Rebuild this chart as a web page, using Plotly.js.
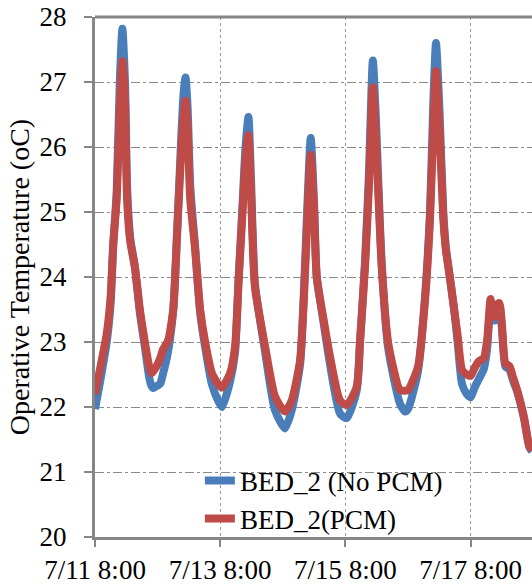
<!DOCTYPE html>
<html>
<head>
<meta charset="utf-8">
<script src="https://cdn.plot.ly/plotly-3.0.1.min.js"></script>
<style>
  html, body { margin: 0; padding: 0; background: #fff; }
  #chart { width: 532px; height: 588px; }
</style>
</head>
<body>
<div id="chart"></div>
<script>
// Time stamps
const times = [
  '2013-07-11 08:00','2013-07-11 10:00','2013-07-11 12:30','2013-07-11 14:00','2013-07-11 15:00',
  '2013-07-11 16:18','2013-07-11 17:30','2013-07-11 18:30','2013-07-11 19:30','2013-07-11 20:18',
  '2013-07-11 21:30','2013-07-11 23:18','2013-07-12 01:12','2013-07-12 03:12','2013-07-12 04:48',
  '2013-07-12 05:42','2013-07-12 06:18','2013-07-12 07:30','2013-07-12 09:00','2013-07-12 10:00',
  '2013-07-12 12:00','2013-07-12 14:00','2013-07-12 15:30','2013-07-12 17:00','2013-07-12 18:00',
  '2013-07-12 18:42','2013-07-12 19:30','2013-07-12 20:30','2013-07-12 22:24','2013-07-13 00:18',
  '2013-07-13 02:18','2013-07-13 04:48','2013-07-13 07:24','2013-07-13 08:42','2013-07-13 11:48',
  '2013-07-13 13:42','2013-07-13 15:00','2013-07-13 16:24','2013-07-13 17:42','2013-07-13 18:48',
  '2013-07-13 19:48','2013-07-13 21:18','2013-07-14 01:12','2013-07-14 05:00','2013-07-14 08:48',
  '2013-07-14 11:24','2013-07-14 14:36','2013-07-14 16:06','2013-07-14 17:24','2013-07-14 18:42',
  '2013-07-14 20:00','2013-07-14 21:00','2013-07-14 23:36','2013-07-15 02:06','2013-07-15 05:54',
  '2013-07-15 08:30','2013-07-15 12:18','2013-07-15 13:36','2013-07-15 15:30','2013-07-15 17:00',
  '2013-07-15 18:30','2013-07-15 19:36','2013-07-15 21:54','2013-07-16 00:24','2013-07-16 04:54',
  '2013-07-16 06:54','2013-07-16 08:00','2013-07-16 11:48','2013-07-16 14:30','2013-07-16 16:24',
  '2013-07-16 17:36','2013-07-16 18:42','2013-07-16 20:00','2013-07-16 21:30','2013-07-16 22:30',
  '2013-07-17 00:00','2013-07-17 01:30','2013-07-17 03:00','2013-07-17 04:42','2013-07-17 06:30',
  '2013-07-17 08:00','2013-07-17 09:30','2013-07-17 11:00','2013-07-17 13:00','2013-07-17 14:18',
  '2013-07-17 15:36','2013-07-17 16:24','2013-07-17 17:12','2013-07-17 18:12','2013-07-17 19:00',
  '2013-07-17 20:00','2013-07-17 21:18','2013-07-17 22:48','2013-07-18 00:18','2013-07-18 01:48',
  '2013-07-18 04:24','2013-07-18 06:30','2013-07-18 07:30'
];

// BED_2 (No PCM)
const noPcm = [
  21.97,22.40,23.00,23.60,24.50, 25.30,27.00,27.82,27.00,25.40,
  24.60,24.15,23.45,22.90,22.45, 22.32,22.29,22.32,22.36,22.50,
  22.85,23.50,24.70,26.10,26.85, 27.07,26.60,25.40,24.45,23.45,
  22.90,22.35,22.08,22.00,22.40, 22.85,23.95,25.00,26.00,26.46,
  25.50,23.90,22.85,21.95,21.67, 21.95,22.65,23.80,25.10,26.14,
  25.10,24.00,23.30,22.65,21.90, 21.83,22.25,23.00,24.25,25.60,
  27.33,26.50,24.20,22.90,22.05, 21.93,21.97,22.55,23.70,25.00,
  26.60,27.60,26.60,25.00,24.45, 24.00,23.55,23.00,22.35,22.20,
  22.15,22.30,22.42,22.58,22.90, 23.55,23.38,23.33,23.52,23.55,
  23.20,22.62,22.58,22.40,22.24, 21.83,21.38,21.32
];

// BED_2(PCM)
const withPcm = [
  22.20,22.60,23.13,23.70,24.50, 25.20,26.60,27.32,26.70,25.20,
  24.55,24.15,23.50,22.98,22.62, 22.52,22.55,22.62,22.75,22.88,
  23.02,23.50,24.70,25.90,26.50, 26.71,26.30,25.20,24.42,23.50,
  22.98,22.52,22.34,22.30,22.52, 22.93,23.90,24.90,25.80,26.18,
  25.30,23.85,22.93,22.16,21.93, 22.10,22.72,23.70,24.90,25.88,
  25.00,24.00,23.35,22.77,22.10, 22.03,22.31,23.03,24.16,25.40,
  26.92,26.20,24.16,22.98,22.26, 22.25,22.26,22.62,23.65,24.90,
  26.20,27.17,26.30,24.90,24.42, 24.00,23.55,23.10,22.57,22.50,
  22.48,22.60,22.70,22.75,23.03, 23.66,23.42,23.39,23.58,23.60,
  23.25,22.67,22.63,22.45,22.26, 21.85,21.39,21.34
];

const tickVals = ['2013-07-11 08:00','2013-07-13 08:00','2013-07-15 08:00','2013-07-17 08:00'];
const tickText = ['7/11 8:00','7/13 8:00','7/15 8:00','7/17 8:00'];
const seriesNames = ['BED_2 (No PCM)', 'BED_2(PCM)'];

const axisGray = '#868686';
const font = 'Liberation Serif, Times New Roman, serif';

const traces = [
  { x: times, y: noPcm, name: seriesNames[0], type: 'scatter', mode: 'lines',
    line: { color: '#4A7EBB', width: 8, shape: 'spline', smoothing: 0.6 } },
  { x: times, y: withPcm, name: seriesNames[1], type: 'scatter', mode: 'lines',
    line: { color: '#BE4B48', width: 8, shape: 'spline', smoothing: 0.6 } }
];

const layout = {
  width: 532, height: 588,
  margin: { l: 95, r: 0, t: 17, b: 51 },
  paper_bgcolor: '#fff', plot_bgcolor: '#fff',
  font: { family: font, size: 27, color: '#000' },
  showlegend: true,
  legend: { x: 0.24, xanchor: 'left', y: 0.155, yanchor: 'top',
            bgcolor: 'rgba(0,0,0,0)', font: { family: font, size: 27, color: '#000' },
            tracegroupgap: 0 },
  xaxis: {
    type: 'date', range: ['2013-07-11 08:00', '2013-07-18 07:30'],
    tickmode: 'array', tickvals: tickVals, ticktext: tickText,
    ticks: 'outside', ticklen: 7, tickwidth: 2, tickcolor: axisGray,
    showline: true, linecolor: axisGray, linewidth: 3,
    showgrid: true, gridcolor: '#9a9a9a', griddash: 'dot', gridwidth: 1,
    zeroline: false, fixedrange: true,
    tickfont: { family: font, size: 27, color: '#000' }
  },
  yaxis: {
    range: [20, 28], tickmode: 'linear', tick0: 20, dtick: 1,
    ticks: 'outside', ticklen: 8, tickwidth: 2, tickcolor: axisGray,
    ticklabelstandoff: 12,
    showline: true, linecolor: axisGray, linewidth: 3,
    showgrid: true, gridcolor: '#8a8a8a', griddash: 'dashdot', gridwidth: 1,
    zeroline: false, fixedrange: true,
    tickfont: { family: font, size: 27, color: '#000' },
    title: { text: 'Operative Temperature (oC)', font: { family: font, size: 28, color: '#000' }, standoff: 2 }
  },
  shapes: [
    { type: 'line', xref: 'paper', yref: 'paper', x0: 0, x1: 1, y0: 1, y1: 1,
      line: { color: axisGray, width: 3 } }
  ]
};

Plotly.newPlot('chart', traces, layout, { staticPlot: true, displayModeBar: false });
</script>
</body>
</html>
